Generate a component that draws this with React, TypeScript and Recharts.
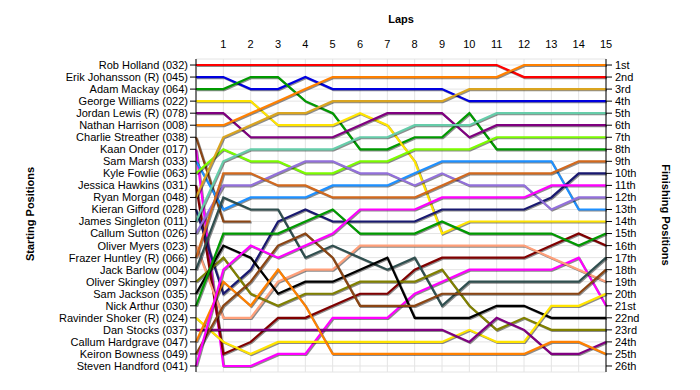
import React from "react";
import { LineChart, Line, XAxis, YAxis, CartesianGrid } from "recharts";

const laps = [0, 1, 2, 3, 4, 5, 6, 7, 8, 9, 10, 11, 12, 13, 14, 15];
const lapTicks = [1, 2, 3, 4, 5, 6, 7, 8, 9, 10, 11, 12, 13, 14, 15];

const drivers = [
  "Rob Holland (032)",
  "Erik Johansson (R) (045)",
  "Adam Mackay (064)",
  "George Williams (022)",
  "Jordan Lewis (R) (078)",
  "Nathan Harrison (008)",
  "Charlie Streather (038)",
  "Kaan Onder (017)",
  "Sam Marsh (033)",
  "Kyle Fowlie (063)",
  "Jessica Hawkins (031)",
  "Ryan Morgan (048)",
  "Kieran Gifford (028)",
  "James Singleton (011)",
  "Callum Sutton (026)",
  "Oliver Myers (023)",
  "Frazer Huntley (R) (066)",
  "Jack Barlow (004)",
  "Oliver Skingley (097)",
  "Sam Jackson (035)",
  "Nick Arthur (030)",
  "Ravinder Shoker (R) (024)",
  "Dan Stocks (037)",
  "Callum Hardgrave (047)",
  "Keiron Bowness (049)",
  "Steven Handford (041)",
];

const finishLabels = [
  "1st", "2nd", "3rd", "4th", "5th", "6th", "7th", "8th", "9th", "10th",
  "11th", "12th", "13th", "14th", "15th", "16th", "17th", "18th", "19th", "20th",
  "21st", "22nd", "23rd", "24th", "25th", "26th",
];

const colors = [
  "#FF0000", "#0000E0", "#009A00", "#FFE400", "#800080", "#FF8000",
  "#8B4513", "#FF00FF", "#1E90FF", "#7CFC00", "#800000", "#DAA520",
  "#191970", "#66CDAA", "#9370DB", "#FFA07A", "#D2691E", "#2F4F4F",
  "#808000", "#000000", "#009A00", "#FFE400", "#800080", "#FF8000",
  "#8B4513", "#FF00FF",
];

// positions per lap (lap 0 = grid)
const robHolland = [1, 1, 1, 1, 1, 1, 1, 1, 1, 1, 1, 1, 2, 2, 2, 2];
const erikJohansson = [2, 2, 3, 3, 2, 3, 3, 3, 3, 3, 4, 4, 4, 4, 4, 4];
const adamMackay = [3, 3, 2, 2, 4, 5, 8, 8, 7, 7, 5, 8, 8, 8, 8, 8];
const georgeWilliams = [4, 4, 4, 6, 6, 6, 5, 6, 9, 15, 14, 14, 14, 14, 14, 14];
const jordanLewis = [5, 5, 7, 7, 7, 7, 6, 5, 5, 5, 7, 6, 6, 6, 6, 6];
const nathanHarrison = [6, 6, 5, 4, 3, 2, 2, 2, 2, 2, 2, 2, 1, 1, 1, 1];
const charlieStreather = [7, 14, 14, null, null, null, null, null, null, null, null, null, null, null, null, null];
const kaanOnder = [8, 26, 26, 25, 25, 22, 22, 22, 20, 19, 18, 18, 18, 18, 17, 21];
const samMarsh = [9, 13, 12, 12, 12, 11, 11, 11, 10, 9, 9, 9, 9, 9, 13, 13];
const kyleFowlie = [10, 8, 9, 9, 10, 10, 9, 9, 8, 8, 8, 7, 7, 7, 7, 7];
const jessicaHawkins = [11, 25, 24, 22, 22, 21, 20, 20, 18, 17, 17, 17, 17, 16, 15, 16];
const ryanMorgan = [12, 7, 6, 5, 5, 4, 4, 4, 4, 4, 3, 3, 3, 3, 3, 3];
const kieranGifford = [13, 20, 18, 14, 13, 14, 14, 14, 14, 13, 13, 13, 13, 12, 10, 10];
const jamesSingleton = [14, 9, 8, 8, 8, 8, 7, 7, 6, 6, 6, 5, 5, 5, 5, 5];
const callumSutton = [15, 11, 11, 10, 9, 9, 10, 10, 11, 10, 11, 11, 11, 13, 12, 12];
const oliverMyers = [16, 22, 22, 19, 18, 18, 16, 16, 16, 16, 16, 16, 16, 17, 18, 19];
const frazerHuntley = [17, 10, 10, 11, 11, 12, 12, 12, 12, 11, 10, 10, 10, 10, 9, 9];
const jackBarlow = [18, 12, 13, 13, 17, 16, 17, 18, 17, 21, 19, 19, 19, 19, 19, 17];
const oliverSkingley = [19, 17, 20, 21, 20, 20, 19, 19, 19, 18, 21, 23, 22, 23, 23, 23];
const samJackson = [20, 16, 17, 20, 19, 19, 18, 17, 22, 22, 22, 21, 21, 22, 22, 22];
const nickArthur = [21, 15, 15, 15, 14, 13, 15, 15, 15, 14, 15, 15, 15, 15, 16, 15];
const ravinderShoker = [22, 24, 25, 24, 24, 24, 24, 24, 24, 24, 23, 24, 24, 21, 21, 20];
const danStocks = [23, 23, 23, 23, 23, 23, 23, 23, 23, 23, 24, 22, 23, 25, 25, 24];
const callumHardgrave = [24, 19, 21, 18, 21, 25, 25, 25, 25, 25, 25, 25, 25, 24, 24, 25];
const keironBowness = [25, 21, 19, 16, 15, 17, 21, 21, 21, 20, 20, 20, 20, 20, 20, 18];
const stevenHandford = [26, 18, 16, 17, 16, 15, 13, 13, 13, 12, 12, 12, 12, 11, 11, 11];

const series = [
  robHolland, erikJohansson, adamMackay, georgeWilliams, jordanLewis, nathanHarrison,
  charlieStreather, kaanOnder, samMarsh, kyleFowlie, jessicaHawkins, ryanMorgan,
  kieranGifford, jamesSingleton, callumSutton, oliverMyers, frazerHuntley, jackBarlow,
  oliverSkingley, samJackson, nickArthur, ravinderShoker, danStocks, callumHardgrave,
  keironBowness, stevenHandford,
];

const posTicks = drivers.map((_, i) => i + 1);

const data = laps.map((lap, li) => {
  const row: Record<string, number | null> = { lap };
  series.forEach((s, di) => {
    row["d" + di] = s[li];
  });
  return row;
});

const FONT = "'Liberation Sans', Arial, sans-serif";

export default function App() {
  return (
    <div style={{ position: "absolute", left: 0, top: 0, width: 700, height: 390, background: "#FFFFFF" }}>
      <style>{`.recharts-line-curve{filter:drop-shadow(1px 1.5px 0.6px rgba(0,0,0,0.45));}`}</style>
      <LineChart
        width={700}
        height={390}
        data={data}
        margin={{ top: 0, right: 0, bottom: 18, left: 0 }}
        style={{ fontFamily: FONT }}
      >
        <CartesianGrid stroke="#E4E4E4" strokeWidth={1} />
        <XAxis
          dataKey="lap"
          type="number"
          orientation="top"
          domain={[0, 15]}
          ticks={lapTicks}
          height={59}
          axisLine={false}
          tickLine={false}
          tickSize={0}
          tickMargin={11}
          interval={0}
          tick={{ fontSize: 11, fill: "#000", fontFamily: FONT }}
          label={{
            content: () => (
              <text x={401} y={23} textAnchor="middle" fontSize={11} fontWeight="bold" fill="#000" fontFamily={FONT}>
                Laps
              </text>
            ),
          }}
        />
        <YAxis
          type="number"
          domain={[0.5, 26.5]}
          reversed
          ticks={posTicks}
          interval={0}
          width={196}
          axisLine={{ stroke: "#000" }}
          tickLine={{ stroke: "#000" }}
          tickSize={6}
          tickMargin={2}
          tickFormatter={(v: number) => drivers[v - 1]}
          tick={{ fontSize: 11, fill: "#000", fontFamily: FONT }}
          label={{
            content: () => (
              <text
                x={34}
                y={214}
                transform="rotate(-90, 34, 214)"
                textAnchor="middle"
                fontSize={11}
                fontWeight="bold"
                fill="#000"
                fontFamily={FONT}
              >
                Starting Positions
              </text>
            ),
          }}
        />
        <YAxis
          yAxisId="r"
          orientation="right"
          type="number"
          domain={[0.5, 26.5]}
          reversed
          ticks={posTicks}
          interval={0}
          width={94}
          axisLine={{ stroke: "#000" }}
          tickLine={{ stroke: "#000" }}
          tickSize={6}
          tickMargin={3}
          tickFormatter={(v: number) => finishLabels[v - 1]}
          tick={{ fontSize: 11, fill: "#000", fontFamily: FONT }}
          label={{
            content: () => (
              <text
                x={662}
                y={215}
                transform="rotate(90, 662, 215)"
                textAnchor="middle"
                fontSize={11}
                fontWeight="bold"
                fill="#000"
                fontFamily={FONT}
              >
                Finishing Positions
              </text>
            ),
          }}
        />
        {series.map((_, di) => (
          <Line
            key={di}
            yAxisId={di === 0 ? "r" : 0}
            type="linear"
            dataKey={"d" + di}
            stroke={colors[di]}
            strokeWidth={2.2}
            dot={false}
            activeDot={false}
            isAnimationActive={false}
            connectNulls={false}
          />
        ))}
      </LineChart>
    </div>
  );
}
